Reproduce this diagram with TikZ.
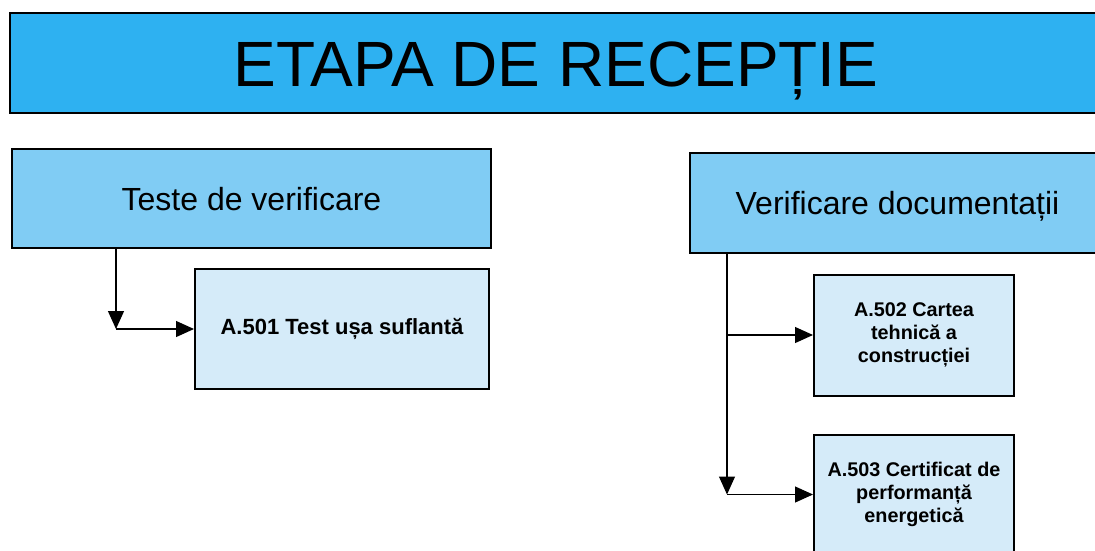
\documentclass[tikz,border=0pt]{standalone}
\usepackage{fontspec}
\setmainfont{Liberation Sans}
\usetikzlibrary{arrows.meta}

\definecolor{titleblue}{HTML}{2EB1F1}
\definecolor{groupblue}{HTML}{80CCF4}
\definecolor{taskblue}{HTML}{D5EBF9}

\begin{document}
\begin{tikzpicture}[
  x=1pt, y=-1pt,
  titlebox/.style={rectangle, draw=black, line width=2.2pt, fill=titleblue,
                   minimum width=1092pt, minimum height=100pt, inner sep=0pt,
                   text height=46pt, text depth=0pt,
                   font=\fontsize{64}{70}\selectfont},
  groupbox/.style={rectangle, draw=black, line width=2pt, fill=groupblue,
                   minimum height=99pt, inner sep=0pt,
                   text height=23pt, text depth=0pt,
                   font=\fontsize{32}{37}\selectfont},
  taskbox/.style={rectangle, draw=black, line width=2pt, fill=taskblue,
                  minimum width=200pt, minimum height=120pt, inner sep=2pt,
                  align=center, font=\bfseries\fontsize{19.8}{22.8}\selectfont},
  link/.style={line width=1.2pt, -{Triangle[length=18pt,width=16pt]}}
]
\useasboundingbox (0,0) rectangle (1095,550);
\clip (0,0) rectangle (1095,550);

% ---- title ----
\node[titlebox] (title) at (556,63) {ETAPA DE RECEPȚIE};

% ---- left group ----
\node[groupbox, minimum width=479pt] (teste) at (251.5,198.5) {Teste de verificare};
\node[taskbox, minimum width=294pt, font=\bfseries\fontsize{22}{25}\selectfont]
  (a501) at (342,329) {A.501 Test ușa suflantă};

\coordinate (tj) at (116,329);
\draw[link] (teste.south -| tj) -- (tj);
\draw[link] (tj) -- (tj -| a501.west);

% ---- right group ----
\node[groupbox, minimum width=415pt, minimum height=100pt] (docs) at (897.5,203)
  {Verificare documentații};
\node[taskbox, minimum height=121pt] (a502) at (914,335)
  {A.502 Cartea\\tehnică a\\construcției};
\node[taskbox] (a503) at (914,494.5)
  {A.503 Certificat de\\performanță\\energetică};

\coordinate (dj) at (727,494.5);
\draw[link] (docs.south -| dj) -- (dj);
\foreach \t in {a502,a503}
  \draw[link] (\t.west -| dj) -- (\t.west);

\end{tikzpicture}
\end{document}
